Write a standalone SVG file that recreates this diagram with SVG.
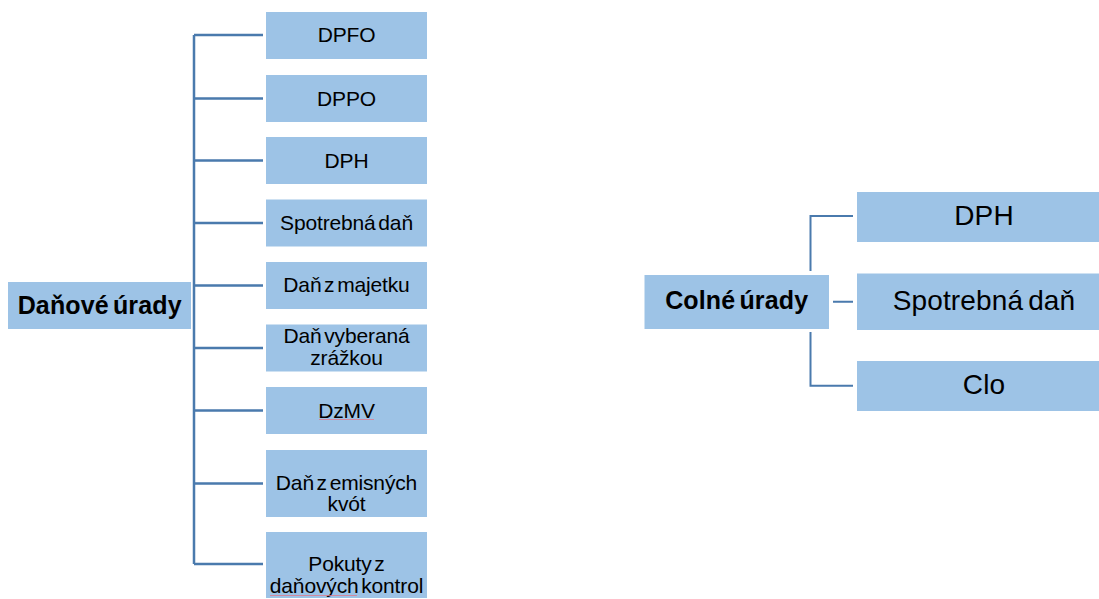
<svg xmlns="http://www.w3.org/2000/svg" width="1099" height="599" viewBox="0 0 1099 599">
<style>
.box{fill:#9dc3e6}
.t{font-family:"Liberation Sans",Arial,sans-serif;fill:#000;text-anchor:middle}
.c{font-size:21px;letter-spacing:-0.15px;word-spacing:-3px}
.r{font-size:25px;font-weight:bold;word-spacing:-3px;letter-spacing:0.15px}
.rc{font-size:28px;letter-spacing:0.15px;word-spacing:-3px}
.ln{stroke:#4a7aad;stroke-width:2.5;fill:none}
.ln2{stroke:#4a7aad;stroke-width:2;fill:none}
.sp{stroke:#e07a8e;stroke-width:0.8;fill:none}
</style>
<rect width="1099" height="599" fill="#fff"/>
<g id="connectors">
<path class="ln" d="M194 35V564M194 35H263M194 98.5H263M194 160.5H263M194 223H263M194 285.5H263M194 348H263M194 410.5H263M194 483.5H263M194 564H263"/>
<path class="ln2" d="M810.5 271V216H853M833 301.7H853M810.5 332V385.7H853"/>
</g>
<g id="danove-urady"><rect class="box" x="8" y="282" width="183" height="47"/><text class="t r" x="99.7" y="313.5">Daňové úrady</text></g>
<g id="dpfo"><rect class="box" x="266" y="12" width="161" height="47"/><text class="t c" x="346.5" y="42">DPFO</text></g>
<g id="dppo"><rect class="box" x="266" y="75" width="161" height="47"/><text class="t c" x="346.5" y="105.5">DPPO</text></g>
<g id="dph-l"><rect class="box" x="266" y="137" width="161" height="47"/><text class="t c" x="346.5" y="167.5">DPH</text></g>
<g id="spotrebna-l"><rect class="box" x="266" y="199.5" width="161" height="47"/><text class="t c" x="346.5" y="229.5">Spotrebná daň</text></g>
<g id="majetok"><rect class="box" x="266" y="262" width="161" height="47"/><text class="t c" x="346.5" y="292">Daň z majetku</text></g>
<g id="zrazkou"><rect class="box" x="266" y="324.5" width="161" height="47"/><text class="t c" x="346.5" y="343">Daň vyberaná</text><text class="t c" x="346.5" y="365">zrážkou</text></g>
<g id="dzmv"><rect class="box" x="266" y="387" width="161" height="47"/><text class="t c" x="346.5" y="417.5">DzMV</text><path class="sp" d="M319 419.5H374"/></g>
<g id="emisne"><rect class="box" x="266" y="450" width="161" height="67"/><text class="t c" x="346.5" y="489.5">Daň z emisných</text><text class="t c" x="346.5" y="511">kvót</text></g>
<g id="pokuty"><rect class="box" x="266" y="532" width="161" height="66"/><text class="t c" x="346.5" y="571">Pokuty z</text><text class="t c" x="346.5" y="593">daňových kontrol</text><path class="sp" d="M270 595.5H357"/></g>
<g id="colne-urady"><rect class="box" x="644.5" y="275" width="184.5" height="54"/><text class="t r" x="736.7" y="308.5">Colné úrady</text></g>
<g id="dph-r"><rect class="box" x="857" y="192" width="256" height="50"/><text class="t rc" x="984" y="224.5">DPH</text></g>
<g id="spotrebna-r"><rect class="box" x="857" y="273.5" width="256" height="56.5"/><text class="t rc" x="984" y="310">Spotrebná daň</text></g>
<g id="clo"><rect class="box" x="857" y="361" width="256" height="50"/><text class="t rc" x="984" y="393.5">Clo</text></g>
</svg>
